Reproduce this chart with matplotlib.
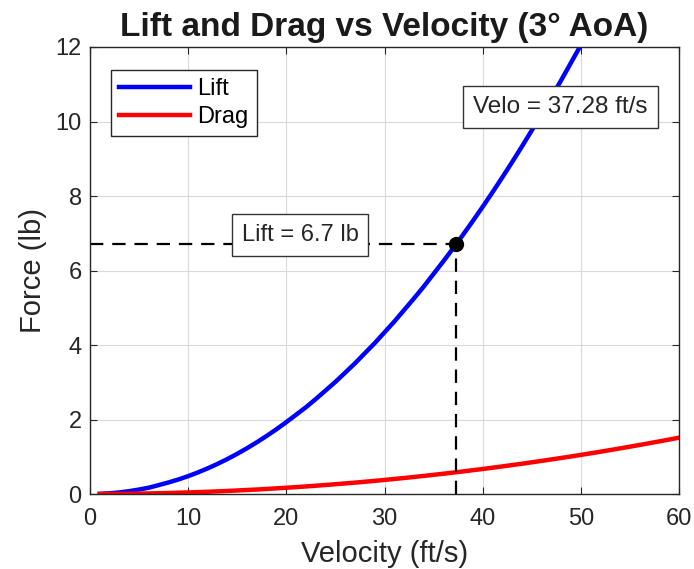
import numpy as np
import matplotlib.pyplot as plt

plt.rcParams['font.family'] = ['Liberation Sans', 'DejaVu Sans']

# velocity samples (ft/s) and forces (lb)
velo_lift = list(range(1, 52))
lift = [0.005, 0.019, 0.043, 0.077, 0.12, 0.17, 0.24, 0.31, 0.39, 0.48,
        0.58, 0.69, 0.81, 0.94, 1.08, 1.23, 1.39, 1.56, 1.74, 1.93,
        2.13, 2.33, 2.55, 2.78, 3.01, 3.26, 3.51, 3.78, 4.05, 4.34,
        4.63, 4.94, 5.25, 5.57, 5.91, 6.25, 6.60, 6.96, 7.33, 7.71,
        8.10, 8.50, 8.91, 9.33, 9.76, 10.20, 10.65, 11.11, 11.58, 12.05,
        12.54]
velo_drag = list(range(1, 61))
drag = [0.0004, 0.0017, 0.0038, 0.0067, 0.0105, 0.015, 0.021, 0.027, 0.034, 0.042,
        0.051, 0.060, 0.071, 0.082, 0.095, 0.108, 0.121, 0.136, 0.152, 0.168,
        0.185, 0.203, 0.222, 0.242, 0.263, 0.284, 0.306, 0.329, 0.353, 0.378,
        0.404, 0.430, 0.457, 0.486, 0.515, 0.544, 0.575, 0.606, 0.639, 0.672,
        0.706, 0.741, 0.777, 0.813, 0.851, 0.889, 0.928, 0.968, 1.008, 1.050,
        1.092, 1.136, 1.180, 1.225, 1.271, 1.317, 1.365, 1.413, 1.462, 1.512]

v_target = 37.28
l_target = 6.7

fig = plt.figure(figsize=(6.94, 5.69), dpi=100)
ax = fig.add_axes([0.1297, 0.1318, 0.8487, 0.7856])

ax.plot(velo_lift, lift, color='#0000ff', lw=3.2, label='Lift')
ax.plot(velo_drag, drag, color='#ff0000', lw=3.2, label='Drag')

ax.plot([0, v_target], [l_target, l_target], color='black', ls=(0, (6, 4)), lw=1.6)
ax.plot([v_target, v_target], [0, l_target], color='black', ls=(0, (6, 4)), lw=1.6)
ax.plot(v_target, l_target, 'o', color='black', ms=10, zorder=5)

bbox = dict(boxstyle='square,pad=0.42', fc='white', ec='#333333', lw=1)
ax.text(21.4, 6.95, 'Lift = %.1f lb' % l_target, ha='center', va='center',
        fontsize=17, color='#262626', bbox=bbox)
ax.text(47.9, 10.39, 'Velo = %.2f ft/s' % v_target, ha='center', va='center',
        fontsize=17.5, color='#262626', bbox=bbox)

ax.set_xlim(0, 60)
ax.set_ylim(0, 12)
ax.set_xticks(np.arange(0, 61, 10))
ax.set_yticks(np.arange(0, 13, 2))
ax.grid(True, color='#d9d9d9', lw=0.8)
ax.set_axisbelow(True)
ax.tick_params(direction='in', top=True, right=True, labelsize=17,
               colors='#262626', length=5, pad=6)
ax.tick_params(axis='x', pad=10)
for s in ax.spines.values():
    s.set_color('#262626')
    s.set_linewidth(1)

ax.set_xlabel('Velocity (ft/s)', fontsize=21, color='#262626', labelpad=7)
ax.set_ylabel('Force (lb)', fontsize=21, color='#262626', labelpad=6)
ax.set_title('Lift and Drag vs Velocity (3° AoA)', fontsize=24,
             fontweight='bold', color='#1a1a1a', pad=8)

leg = ax.legend(loc='upper left', bbox_to_anchor=(0.036, 0.949), fontsize=17,
                fancybox=False, edgecolor='#262626', framealpha=1,
                handlelength=3.0, borderpad=0.35, labelspacing=0.25,
                handletextpad=0.3, borderaxespad=0)
leg.get_frame().set_linewidth(1)

fig.savefig('out.png', dpi=100)
